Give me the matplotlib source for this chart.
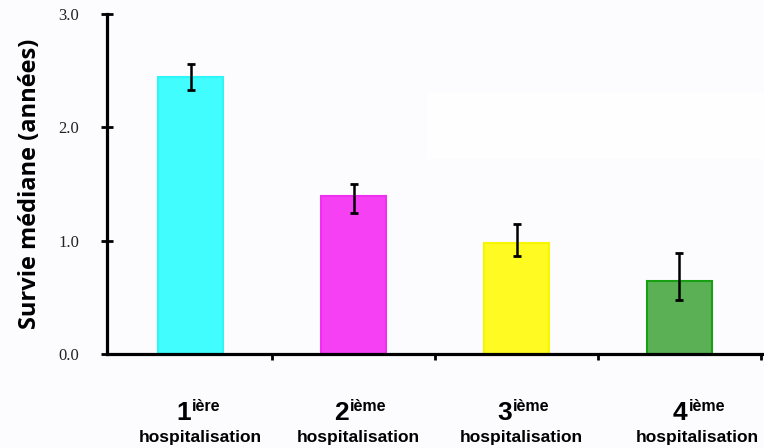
import numpy as np
import matplotlib.pyplot as plt
from matplotlib.patches import Rectangle
import matplotlib.transforms as mtransforms

# median survival (years) per hospitalisation rank, with CI bounds
ranks = ["1", "2", "3", "4"]
suffixes = ["ière", "ième", "ième", "ième"]
medians = [2.44, 1.39, 0.98, 0.64]
ci_low = [2.33, 1.24, 0.86, 0.48]
ci_high = [2.56, 1.50, 1.15, 0.89]
yticks = [0.0, 1.0, 2.0, 3.0]

fills = ["#41fdfd", "#f540f3", "#fffb22", "#5bb055"]
edges = ["#2ff6f6", "#f030f0", "#f7f500", "#17a012"]

bg = "#fcfbfe"
fig = plt.figure(figsize=(7.64, 4.48), dpi=100, facecolor=bg)
ax = fig.add_axes([0.140, 0.210, 0.858, 0.759])
ax.set_facecolor(bg)
ax.patch.set_alpha(0)

# washed-out white panel behind the right part of the plot
fig.patches.append(Rectangle((0.559, 0.645), 0.441, 0.147, transform=fig.transFigure,
                             facecolor="#fefefe", edgecolor="none", zorder=0))

x = np.arange(len(medians))
med = np.array(medians)
yerr = [med - np.array(ci_low), np.array(ci_high) - med]
ax.bar(x, med, width=0.4, color=fills, edgecolor=edges, linewidth=1.5, zorder=2)
ax.errorbar(x, med, yerr=yerr, fmt="none", ecolor="black", elinewidth=1.8,
            capsize=3, capthick=2, zorder=3)

ax.set_xlim(-0.515, 3.51)
ax.set_ylim(0, 3.0)

for side in ["top", "right"]:
    ax.spines[side].set_visible(False)
for side in ["left", "bottom"]:
    ax.spines[side].set_linewidth(2.3)

ax.set_yticks(yticks)
ax.set_yticklabels([f"{v:.1f}" for v in yticks], family="Liberation Serif",
                   fontsize=12, color="#222222")
ax.tick_params(axis="y", direction="inout", length=8, width=2, pad=16)
ax.set_xticks([0.5, 1.5, 2.5, 3.5])
ax.set_xticklabels([])
ax.tick_params(axis="x", direction="out", length=4.5, width=2)

ax.set_ylabel("Survie médiane (années)", family="Open Sans", fontweight="bold",
              fontsize=17, labelpad=12)

# category labels: big rank number with superscript suffix, then the word below
label_x = [0.06, 1.03, 2.03, 3.11]
trans = mtransforms.blended_transform_factory(ax.transData, fig.transFigure)
for lx, r, s in zip(label_x, ranks, suffixes):
    ax.annotate(r, xy=(lx, 1 - 420 / 448), xycoords=trans, xytext=(-7, 0),
                textcoords="offset points", ha="right", va="baseline",
                family="Liberation Sans", fontweight="bold", fontsize=19,
                annotation_clip=False)
    ax.annotate(s, xy=(lx, 1 - 411 / 448), xycoords=trans, xytext=(-6, 0),
                textcoords="offset points", ha="left", va="baseline",
                family="Liberation Sans", fontweight="bold", fontsize=11.5,
                annotation_clip=False)
    ax.text(lx, 1 - 442 / 448, "hospitalisation", transform=trans, ha="center",
            va="baseline", family="Liberation Sans", fontweight="bold", fontsize=12.5)

fig.savefig("out.png", dpi=100, facecolor=bg)
